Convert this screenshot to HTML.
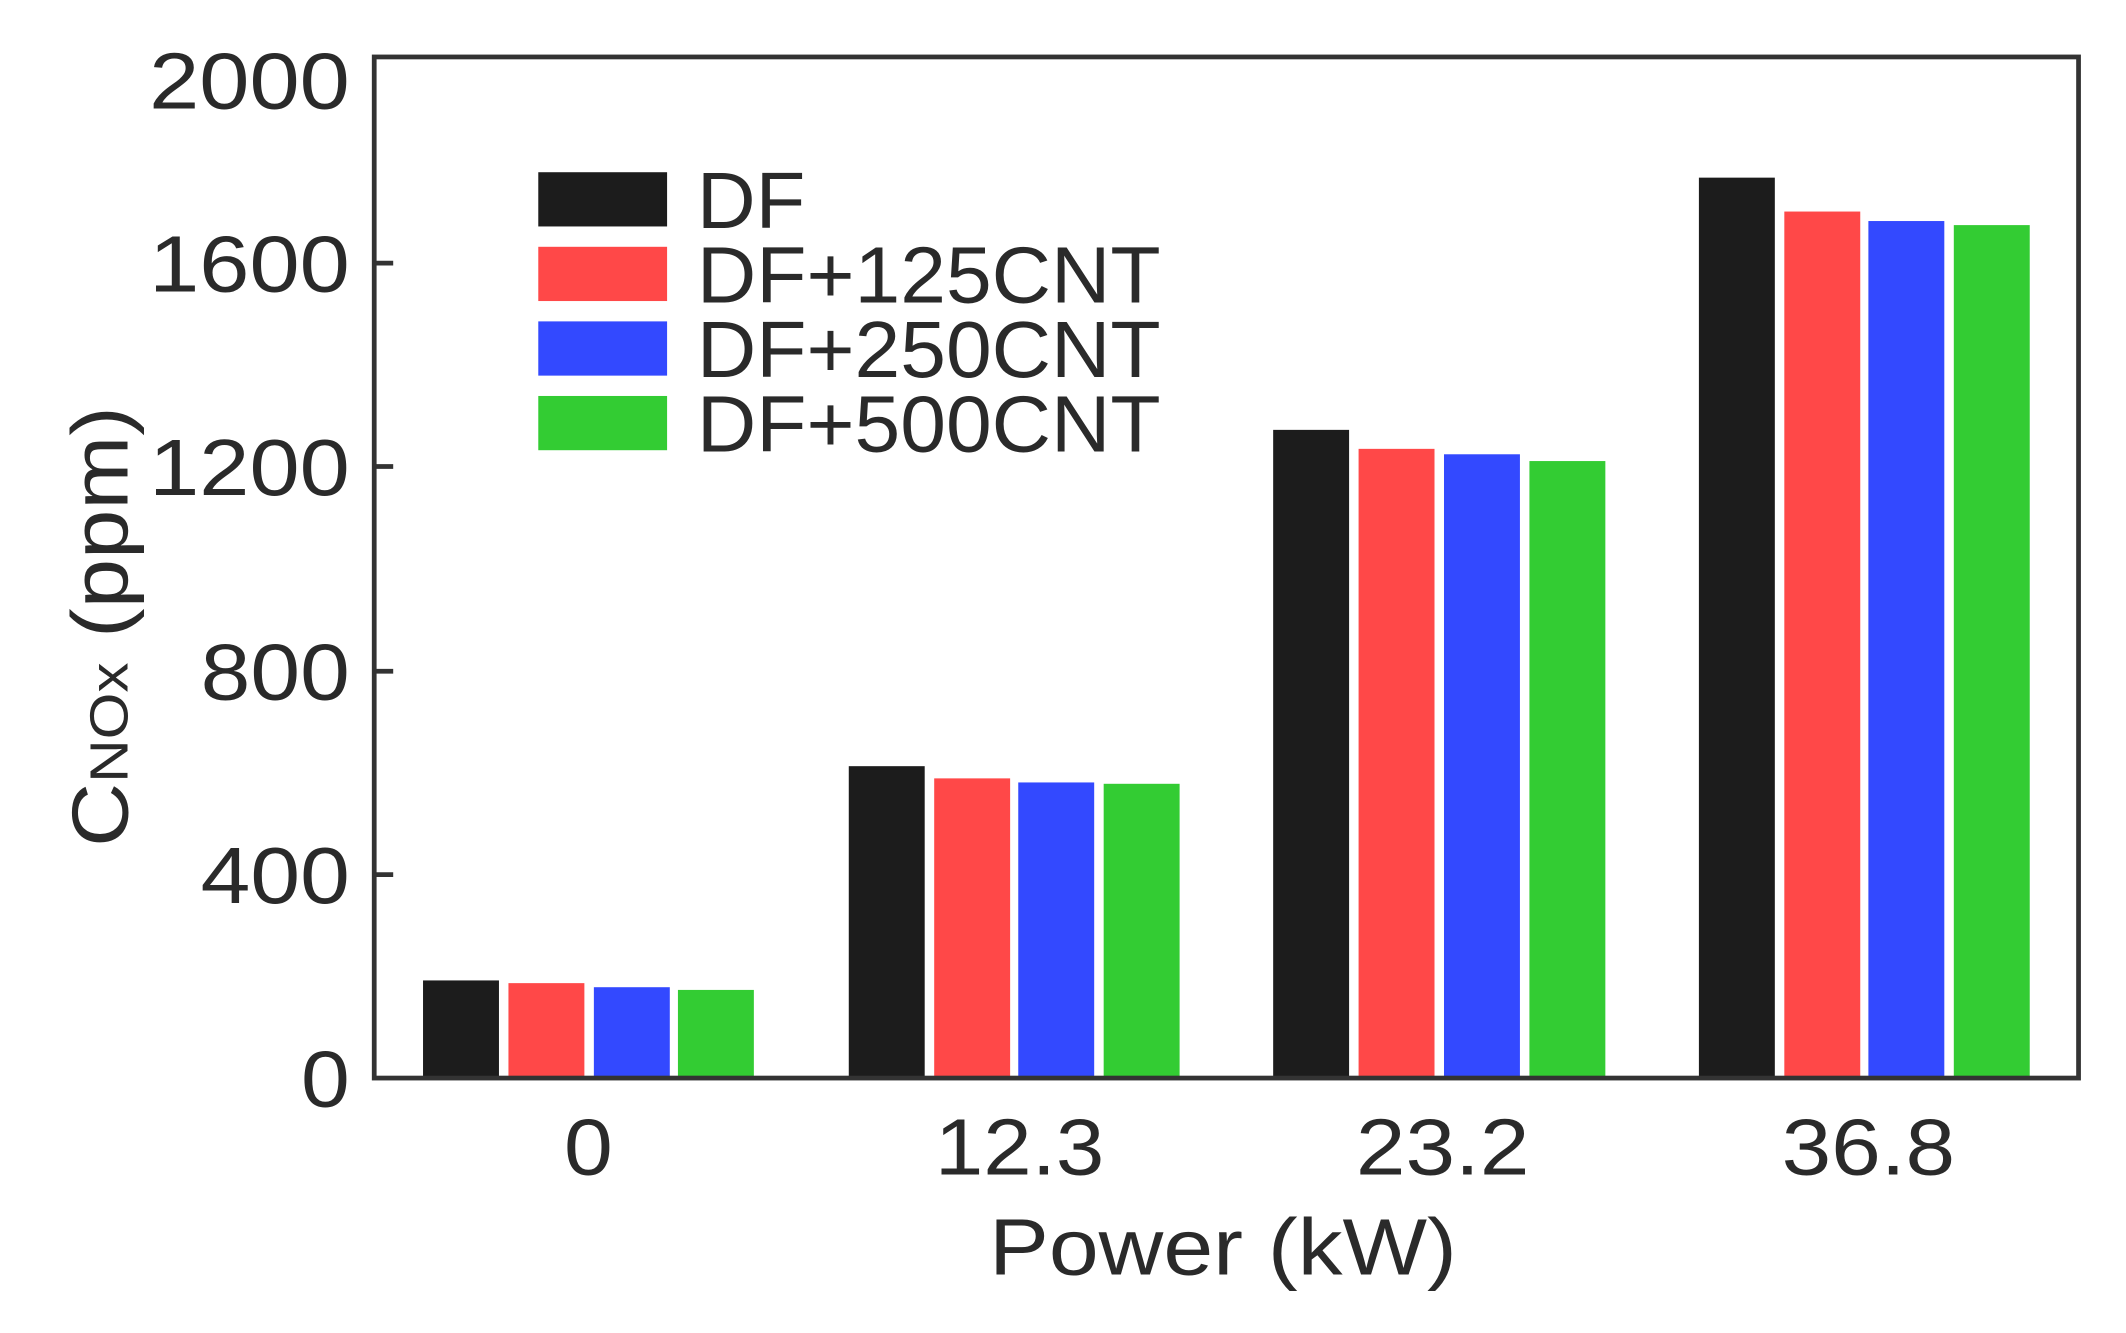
<!DOCTYPE html>
<html><head><meta charset="utf-8"><style>html,body{margin:0;padding:0;background:#fff}svg{display:block}</style></head>
<body>
<svg width="2126" height="1333" viewBox="0 0 1568 983" preserveAspectRatio="none" xmlns="http://www.w3.org/2000/svg" font-family="Liberation Sans, sans-serif" fill="#2a2a2a">
<rect width="1568" height="983" fill="#fff"/>
<g>
<rect x="312" y="723" width="56" height="72" fill="#1c1c1c"/>
<rect x="375" y="725" width="56" height="70" fill="#ff4848"/>
<rect x="438" y="728" width="56" height="67" fill="#3349ff"/>
<rect x="500" y="730" width="56" height="65" fill="#33cc33"/>

<rect x="626" y="565" width="56" height="230" fill="#1c1c1c"/>
<rect x="689" y="574" width="56" height="221" fill="#ff4848"/>
<rect x="751" y="577" width="56" height="218" fill="#3349ff"/>
<rect x="814" y="578" width="56" height="217" fill="#33cc33"/>

<rect x="939" y="317" width="56" height="478" fill="#1c1c1c"/>
<rect x="1002" y="331" width="56" height="464" fill="#ff4848"/>
<rect x="1065" y="335" width="56" height="460" fill="#3349ff"/>
<rect x="1128" y="340" width="56" height="455" fill="#33cc33"/>

<rect x="1253" y="131" width="56" height="664" fill="#1c1c1c"/>
<rect x="1316" y="156" width="56" height="639" fill="#ff4848"/>
<rect x="1378" y="163" width="56" height="632" fill="#3349ff"/>
<rect x="1441" y="166" width="56" height="629" fill="#33cc33"/>
</g>
<rect x="276" y="42" width="1257" height="753" fill="none" stroke="#333" stroke-width="3.5"/>
<g stroke="#333" stroke-width="3.5">
<line x1="276" y1="194" x2="290" y2="194"/>
<line x1="276" y1="344" x2="290" y2="344"/>
<line x1="276" y1="495" x2="290" y2="495"/>
<line x1="276" y1="645" x2="290" y2="645"/>
</g>
<g font-size="59" text-anchor="end" lengthAdjust="spacingAndGlyphs">
<text x="258" y="80" textLength="148" lengthAdjust="spacingAndGlyphs">2000</text>
<text x="258" y="215" textLength="148" lengthAdjust="spacingAndGlyphs">1600</text>
<text x="258" y="365" textLength="148" lengthAdjust="spacingAndGlyphs">1200</text>
<text x="258" y="516" textLength="110" lengthAdjust="spacingAndGlyphs">800</text>
<text x="258" y="666" textLength="110" lengthAdjust="spacingAndGlyphs">400</text>
<text x="258" y="816" textLength="36" lengthAdjust="spacingAndGlyphs">0</text>
</g>
<g font-size="59" text-anchor="middle">
<text x="434" y="866" textLength="36" lengthAdjust="spacingAndGlyphs">0</text>
<text x="752" y="866" textLength="125" lengthAdjust="spacingAndGlyphs">12.3</text>
<text x="1064" y="866" textLength="128" lengthAdjust="spacingAndGlyphs">23.2</text>
<text x="1378" y="866" textLength="128" lengthAdjust="spacingAndGlyphs">36.8</text>
<text x="902" y="940" textLength="345" lengthAdjust="spacingAndGlyphs">Power (kW)</text>
</g>
<text transform="translate(94,462) rotate(-90)" font-size="59" text-anchor="middle" textLength="325" lengthAdjust="spacingAndGlyphs">C<tspan font-size="40">NOx</tspan> (ppm)</text>
<rect x="397" y="127" width="95" height="40" fill="#1c1c1c"/>
<rect x="397" y="182" width="95" height="40" fill="#ff4848"/>
<rect x="397" y="237" width="95" height="40" fill="#3349ff"/>
<rect x="397" y="292" width="95" height="40" fill="#33cc33"/>
<g font-size="59">
<text x="514" y="168" textLength="80" lengthAdjust="spacingAndGlyphs">DF</text>
<text x="514" y="223" textLength="342" lengthAdjust="spacingAndGlyphs">DF+125CNT</text>
<text x="514" y="278" textLength="342" lengthAdjust="spacingAndGlyphs">DF+250CNT</text>
<text x="514" y="333" textLength="342" lengthAdjust="spacingAndGlyphs">DF+500CNT</text>
</g>
</svg>
</body></html>
